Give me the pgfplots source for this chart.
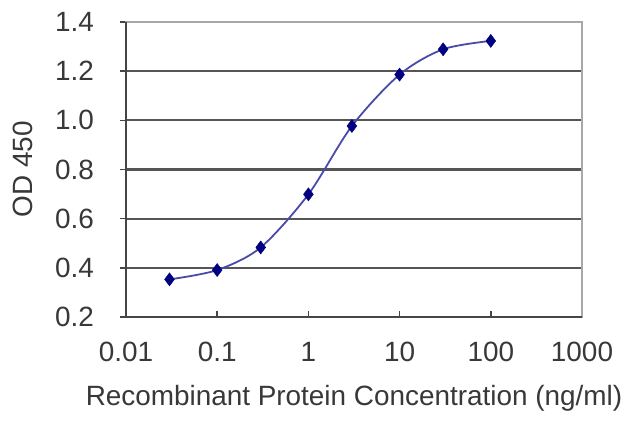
\documentclass[border=0pt]{standalone}
\usepackage{pgfplots}
\pgfplotsset{compat=1.18}
\usepackage{fontspec}
\setmainfont{Liberation Sans}
\definecolor{txt}{HTML}{383838}
\definecolor{gridc}{HTML}{555555}
\definecolor{frame}{HTML}{A8A8A8}
\definecolor{axc}{HTML}{454545}
\definecolor{linec}{HTML}{4A4AAA}
\definecolor{markc}{HTML}{000080}
\begin{document}
\begin{tikzpicture}
\useasboundingbox (-126bp,-110bp) rectangle (514bp,317bp);
\begin{axis}[
  at={(0,0)}, anchor=south west,
  scale only axis, width=456bp, height=295bp,
  xmode=log, xmin=0.01, xmax=1000, ymin=0.2, ymax=1.4,
  xtick={0.01,0.1,1,10,100,1000},
  xticklabels={0.01,0.1,1,10,100,1000},
  xminorticks=false,
  ytick={0.2,0.4,0.6,0.8,1.0,1.2,1.4},
  yticklabels={0.2,0.4,0.6,0.8,1.0,1.2,1.4},
  xtick pos=bottom, ytick pos=left,
  xtick align=inside, ytick align=outside,
  major tick length=6bp,
  tick style={axc, line width=1.5bp},
  ymajorgrids,
  major grid style={gridc, line width=2.2bp},
  axis line style={frame, line width=1.5bp},
  /pgf/number format/assume math mode=true,
  font=\fontsize{28}{32}\selectfont,
  tick label style={txt, font=\fontsize{28}{32}\selectfont},
  xticklabel style={anchor=north, inner sep=0pt, yshift=-25bp},
  yticklabel style={anchor=east, inner sep=0pt, xshift=-26bp},
  xlabel={Recombinant Protein Concentration (ng/ml)},
  ylabel={OD 450},
  every axis x label/.style={txt, at={(axis description cs:0.5,0)}, yshift=-81bp, anchor=center},
  every axis y label/.style={txt, at={(axis description cs:0,0.5)}, xshift=-103bp, rotate=90, anchor=center},
  clip=false,
]
\addplot[linec, line width=1.8bp, smooth, tension=0.5,
  mark=diamond*, mark size=6.5bp, mark options={fill=markc, draw=markc, line width=0.5bp}]
  coordinates {
  (0.03,0.353) (0.1,0.391) (0.3,0.483) (1,0.699)
  (3,0.977) (10,1.186) (30,1.289) (100,1.323)
  };
\draw[axc, line width=2.2bp] (rel axis cs:0,1) -- (rel axis cs:0,0) -- (rel axis cs:1,0);
\end{axis}
\end{tikzpicture}
\end{document}
